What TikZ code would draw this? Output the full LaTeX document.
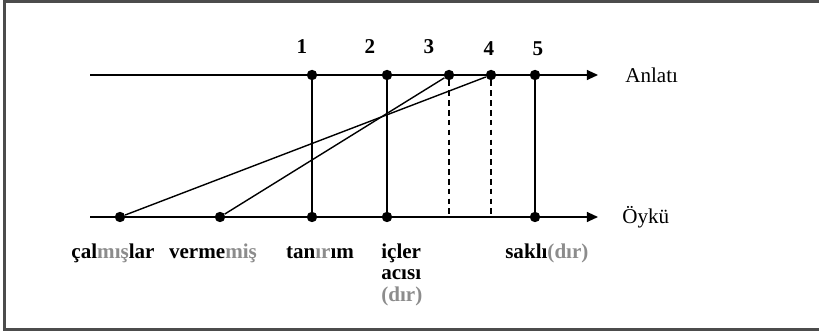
\documentclass[tikz,border=0pt]{standalone}
\usepackage{fontspec}
\setmainfont{Liberation Serif}
\usetikzlibrary{arrows.meta, positioning}
\definecolor{faded}{gray}{0.55}
\definecolor{framegray}{gray}{0.3}

\begin{document}
\begin{tikzpicture}[
    dot/.style={circle, fill=black, inner sep=0pt, minimum size=2.6mm},
    axis/.style={line width=1.1pt, -{Triangle[length=2.8mm,width=2.5mm]}},
    link/.style={line width=1pt},
    guide/.style={line width=1pt, dash pattern=on 4pt off 3pt},
    num/.style={font=\fontsize{15}{15}\selectfont\bfseries, inner sep=0pt},
    word/.style={font=\fontsize{15}{15}\selectfont\bfseries, inner sep=0pt},
    axislabel/.style={font=\fontsize{15}{15}\selectfont, anchor=west, inner sep=0pt}
]
\useasboundingbox (0,0) rectangle (20.475,8.35);

% Frame
\draw[framegray, line width=2pt] (20.6,8.31) -- (0.11,8.31) -- (0.11,0.11) -- (20.6,0.11);

% Axes
\coordinate (a_start) at (2.25,6.475);
\coordinate (a_end) at (14.95,6.475);
\coordinate (o_start) at (2.25,2.925);
\coordinate (o_end) at (14.95,2.925);
\draw[axis] (a_start) -- (a_end);
\draw[axis] (o_start) -- (o_end);
\node[axislabel] (anlati) at (15.625,6.475) {Anlatı};
\node[axislabel] (oyku) at (15.55,2.925) {Öykü};

% Anlati points
\node[dot] (a1) at (7.8,6.475) {};
\node[dot] (a2) at (9.675,6.475) {};
\node[dot] (a3) at (11.225,6.475) {};
\node[dot] (a4) at (12.275,6.475) {};
\node[dot] (a5) at (13.375,6.475) {};

% Oyku points
\node[dot] (calmis) at (3.0,2.925) {};
\node[dot] (vermemis) at (5.5,2.925) {};
\node[dot] (tanirim) at (7.8,2.925) {};
\node[dot] (icler) at (9.675,2.925) {};
\coordinate (o3) at (11.225,2.925);
\coordinate (o4) at (12.275,2.925);
\node[dot] (sakli) at (13.375,2.925) {};

% Numbers
\node[num] (n1) at (7.55,7.175) {1};
\node[num] (n2) at (9.25,7.175) {2};
\node[num] (n3) at (10.725,7.175) {3};
\node[num] (n4) at (12.225,7.125) {4};
\node[num] (n5) at (13.45,7.125) {5};

% Connections
\draw[link] (a1) -- (tanirim);
\draw[link] (a2) -- (icler);
\draw[link] (a5) -- (sakli);
\draw[link] (calmis) -- (a4);
\draw[link] (vermemis) -- (a3);
\draw[guide] (a3) -- (o3);
\draw[guide] (a4) -- (o4);

% Words
\node[word, anchor=base] (w_calmis) at (2.825,1.875) {çal\textcolor{faded}{mış}lar};
\node[word, anchor=base] (w_vermemis) at (5.325,1.875) {verme\textcolor{faded}{miş}};
\node[word, anchor=base] (w_tanirim) at (8.0,1.875) {tan\textcolor{faded}{ır}ım};
\node[word, anchor=north west, align=left] (w_icler) at (9.525,2.25) {içler\\acısı\\\textcolor{faded}{(dır)}};
\node[word, anchor=base west] (w_sakli) at (12.625,1.875) {saklı\textcolor{faded}{(dır)}};

\end{tikzpicture}
\end{document}
